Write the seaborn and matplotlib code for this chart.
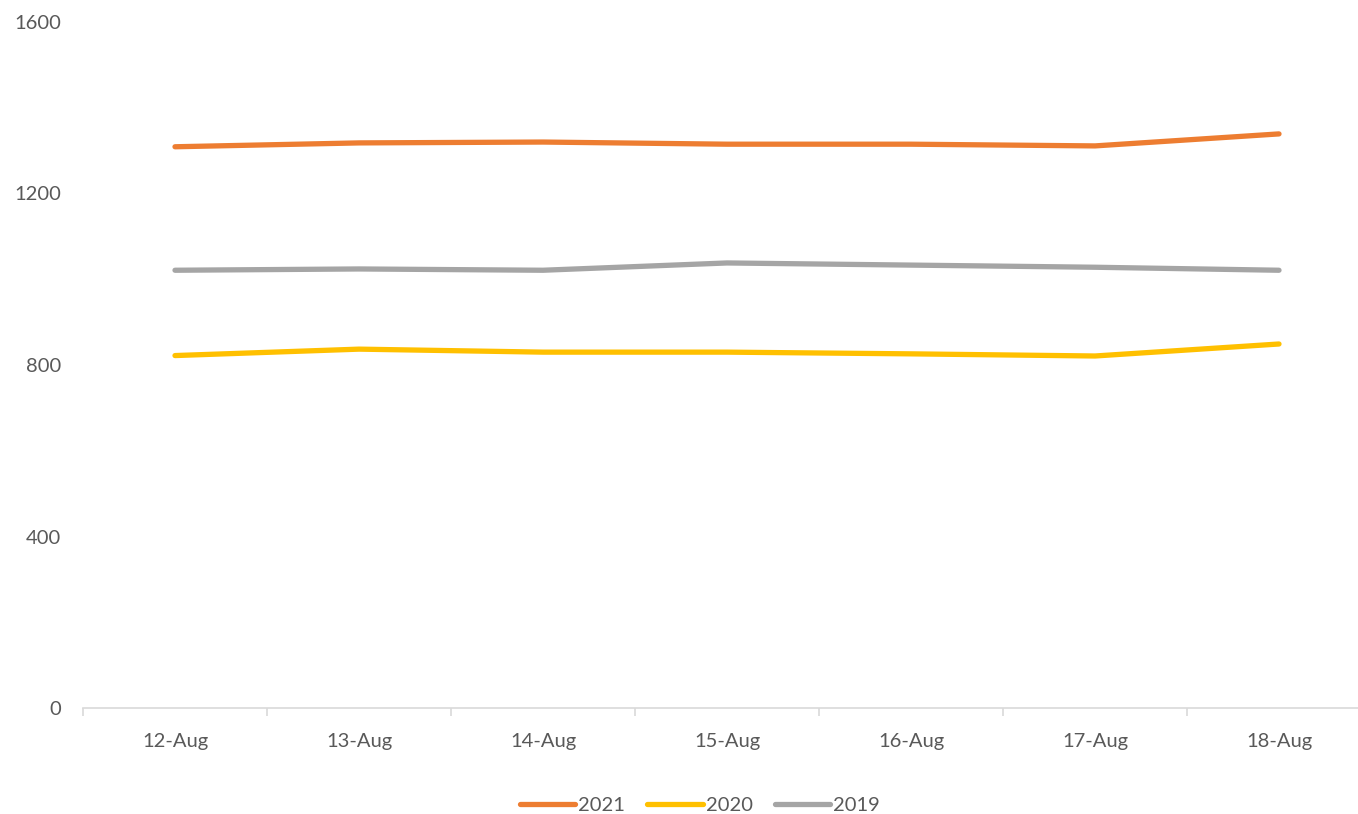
import pandas as pd
import matplotlib.pyplot as plt
import seaborn as sns
from matplotlib.ticker import FixedLocator

# data
days = ['12-Aug', '13-Aug', '14-Aug', '15-Aug', '16-Aug', '17-Aug', '18-Aug']
y2021 = [1309, 1318, 1320, 1315, 1315, 1311, 1339]
y2020 = [822, 837, 830, 830, 826, 821, 849]
y2019 = [1021, 1024, 1021, 1038, 1033, 1028, 1021]

years = ['2021', '2020', '2019']
colors = {'2021': '#ED7D31', '2020': '#FFC000', '2019': '#A5A5A5'}

df = pd.DataFrame({'day': days * 3,
                   'value': y2021 + y2020 + y2019,
                   'year': ['2021'] * 7 + ['2020'] * 7 + ['2019'] * 7})

sns.set_style('white')
plt.rcParams['font.family'] = ['Lato', 'DejaVu Sans']
text_col = '#595959'
fs = 14.5

fig = plt.figure(figsize=(13.58, 8.14), dpi=100)
ax = fig.add_axes([83 / 1358, 106 / 814, 1288 / 1358, 686 / 814])

sns.lineplot(data=df, x='day', y='value', hue='year', hue_order=years,
             palette=colors, linewidth=3.8, ax=ax, legend=True)
for ln in ax.lines:
    ln.set_solid_capstyle('round')

ax.set_xlim(-0.5, 6.5)
ax.set_ylim(0, 1600)
ax.set_yticks([0, 400, 800, 1200, 1600])
ax.set_xlabel('')
ax.set_ylabel('')

for s in ['top', 'right', 'left']:
    ax.spines[s].set_visible(False)
ax.spines['bottom'].set_color('#D9D9D9')
ax.spines['bottom'].set_linewidth(1.2)

# small tick marks between the categories
ax.xaxis.set_minor_locator(FixedLocator([i - 0.5 for i in range(8)]))
ax.tick_params(axis='x', which='minor', bottom=True, length=6, width=1.2, color='#D9D9D9', direction='out')
ax.tick_params(axis='x', which='major', bottom=True, length=0, pad=18, labelsize=fs, labelcolor=text_col)
ax.tick_params(axis='y', length=0, pad=16, labelsize=fs, labelcolor=text_col)
ax.grid(False)

leg = ax.legend(loc='center', bbox_to_anchor=(700 / 1358, 9 / 814), bbox_transform=fig.transFigure,
                ncol=3, frameon=False, fontsize=fs, handlelength=2.75, handletextpad=0.15,
                columnspacing=1.1, labelcolor=text_col)
for h in leg.get_lines():
    h.set_linewidth(3.8)
    h.set_solid_capstyle('round')

fig.savefig('out.png', dpi=100)
